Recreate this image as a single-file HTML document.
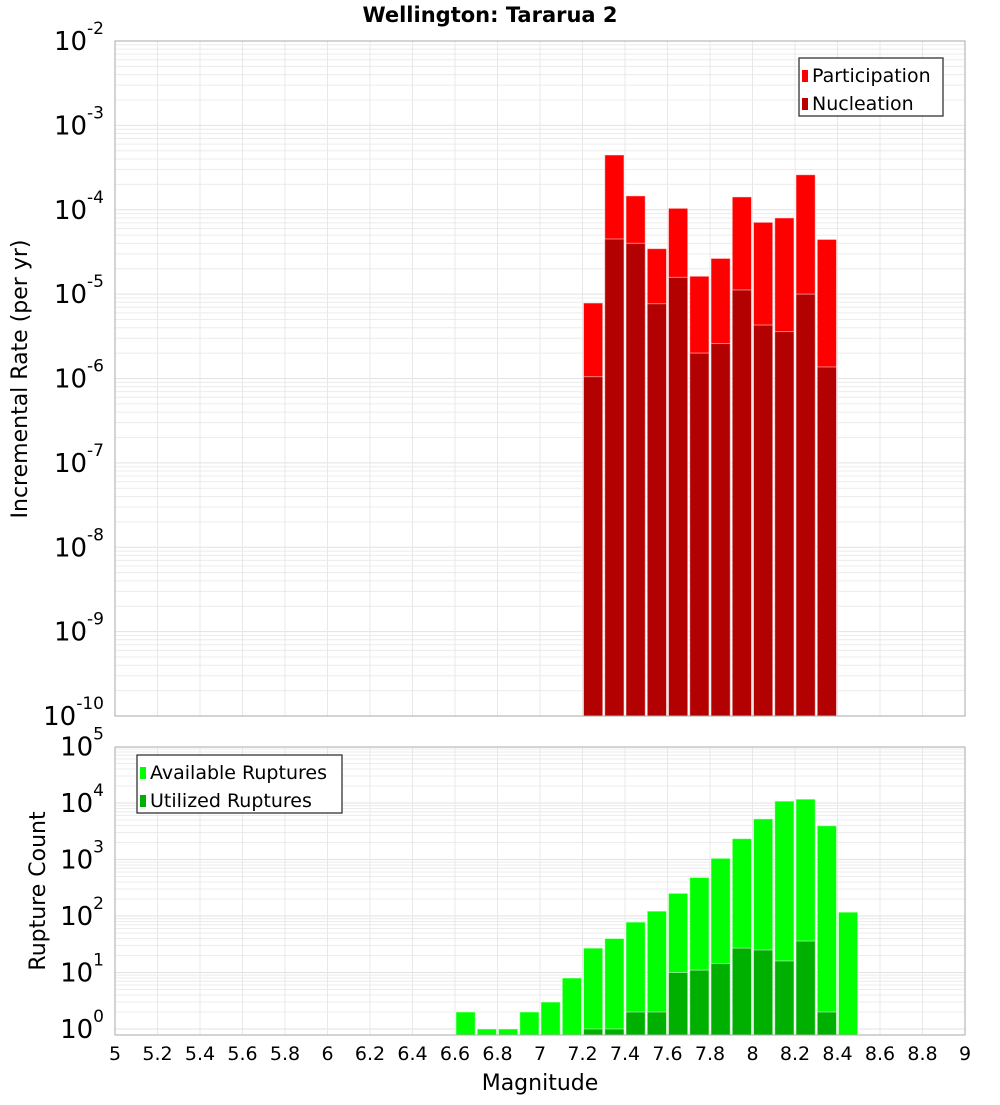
<!DOCTYPE html>
<html><head><meta charset="utf-8"><style>
body{margin:0;background:#fff;font-family:"Liberation Sans","DejaVu Sans",sans-serif}
svg text{font-family:"DejaVu Sans","Liberation Sans",sans-serif}
</style></head><body>
<svg id="c" width="1000" height="1100" xmlns="http://www.w3.org/2000/svg">
<text x="490" y="22" text-anchor="middle" font-size="21" font-weight="bold">Wellington: Tararua 2</text>
<g id="top"></g>
<g id="bot"></g>
<text transform="translate(27,379) rotate(-90)" text-anchor="middle" font-size="22">Incremental Rate (per yr)</text>
<text transform="translate(45,891) rotate(-90)" text-anchor="middle" font-size="22">Rupture Count</text>
<text x="540" y="1090" text-anchor="middle" font-size="22">Magnitude</text>
</svg>
<script>
const mags=[7.25,7.35,7.45,7.55,7.65,7.75,7.85,7.95,8.05,8.15,8.25,8.35];
const participation=[7.85e-6,4.46e-4,1.46e-4,3.46e-5,1.04e-4,1.63e-5,2.65e-5,1.42e-4,7.1e-5,8.0e-5,2.6e-4,4.45e-5];
const nucleation=[1.05e-6,4.5e-5,4.0e-5,7.7e-6,1.58e-5,2.0e-6,2.6e-6,1.12e-5,4.3e-6,3.6e-6,1.0e-5,1.37e-6];
const countMags=[6.65,6.75,6.85,6.95,7.05,7.15,7.25,7.35,7.45,7.55,7.65,7.75,7.85,7.95,8.05,8.15,8.25,8.35,8.45];
const available=[2,1,1,2,3,8,27,40,78,122,252,480,1050,2340,5240,10800,11700,3960,117];
const utilized=[0,0,0,0,0,0,1,1,2,2,10,11,14.4,27,25,16,36,2,0];
const xTicks=["5","5.2","5.4","5.6","5.8","6","6.2","6.4","6.6","6.8","7","7.2","7.4","7.6","7.8","8","8.2","8.4","8.6","8.8","9"];
const NS="http://www.w3.org/2000/svg";
const X0=115,X1=965;
const xs=m=>X0+(m-5)/4*(X1-X0);
const yTop=v=>41+(675/8)*(-2-Math.log10(v));
const yBot=v=>1029-56.5*Math.log10(v);
function el(p,t,a){const e=document.createElementNS(NS,t);for(const k in a)e.setAttribute(k,a[k]);p.appendChild(e);return e;}
function panel(g,top,bot,yf,d0,d1,name){
  el(g,'rect',{x:X0,y:top,width:X1-X0,height:bot-top,fill:'#fff'});
  for(let d=d0;d<d1;d++)for(let k=1;k<10;k++){const y=yf(k*Math.pow(10,d));if(y<top||y>bot)continue;
    const l=el(g,'line',{x1:X0,x2:X1,y1:y,y2:y,stroke:k==1?'#e2e2e2':'#ececec','stroke-width':1});
    }
  for(let i=0;i<=20;i++){const x=xs(5+i*0.2);
    const l=el(g,'line',{x1:x,x2:x,y1:top,y2:bot,stroke:'#e8e8e8'});
    }
  for(let d=d0;d<=d1;d++){const y=yf(Math.pow(10,d));
    const t=el(g,'text',{x:104,y:y+9,'text-anchor':'end','font-size':26});
    
    t.textContent='10';const s=el(t,'tspan',{dy:-16,'font-size':17});s.textContent=String(d);}
}
function bars(g,mm,vals,yf,base,col,name){
  mm.forEach((m,i)=>{const v=vals[i];if(!v)return;const y=yf(v);const x=xs(m-0.05);
    const r=el(g,'rect',{x:x+1,y:y,width:(X1-X0)/40-2,height:base-y,fill:col,stroke:'rgba(255,255,255,0.5)','stroke-width':1});
    });
}
const gt=document.getElementById('top'),gb=document.getElementById('bot');
panel(gt,41,716,yTop,-10,-2,'top');
bars(gt,mags,participation,yTop,716,'#ff0000','participation');
bars(gt,mags,nucleation,yTop,716,'#b30000','nucleation');
el(gt,'rect',{x:X0,y:41,width:X1-X0,height:675,fill:'none',stroke:'#aaa'});
panel(gb,747,1035,yBot,0,5,'bot');
bars(gb,countMags,available,yBot,1035,'#00ff00','available');
bars(gb,countMags,utilized,yBot,1035,'#00b000','utilized');
el(gb,'rect',{x:X0,y:747,width:X1-X0,height:288,fill:'none',stroke:'#aaa'});
xTicks.forEach((t,i)=>{const e=el(gb,'text',{x:xs(5+i*0.2),y:1060,'text-anchor':'middle','font-size':19});
  e.textContent=t;});
function legend(g,x,y,w,items,name){
  const lg=el(g,'g',{});
  el(lg,'rect',{x:x,y:y,width:w,height:58,fill:'#fff',stroke:'#333','stroke-width':1.3});
  items.forEach((it,i)=>{el(lg,'rect',{x:x+3,y:y+12+i*28,width:6,height:12,fill:it[1]});
    const t=el(lg,'text',{x:x+13,y:y+24+i*28,'font-size':19});
    t.textContent=it[0];});
}
legend(gt,799,58,144,[['Participation','#ff0000'],['Nucleation','#b30000']],'legend-top');
legend(gb,137,755,205,[['Available Ruptures','#00ff00'],['Utilized Ruptures','#00b000']],'legend-bottom');
</script>
</body></html>
